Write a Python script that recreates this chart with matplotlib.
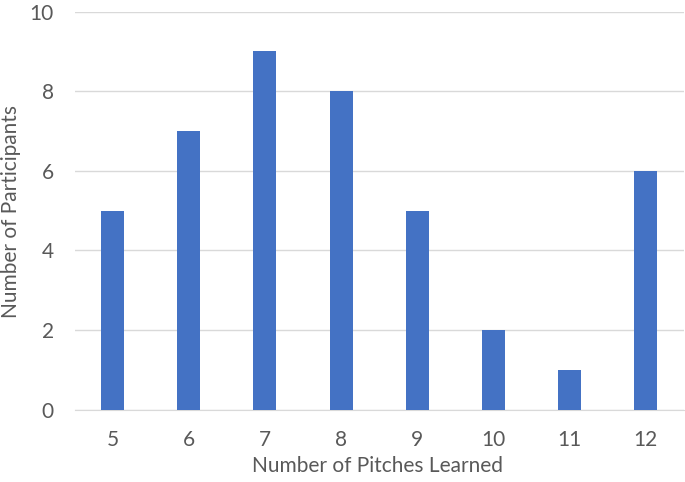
import matplotlib
matplotlib.use("Agg")
import matplotlib.pyplot as plt

categories = ["5", "6", "7", "8", "9", "10", "11", "12"]
values = [5, 7, 9, 8, 5, 2, 1, 6]
yticks = [0, 2, 4, 6, 8, 10]

plt.rcParams['font.family'] = ['Lato', 'DejaVu Sans']
W, H = 685, 482
fig = plt.figure(figsize=(W / 100, H / 100), dpi=100)
ax = fig.add_axes([0.1088, 0.1504, 0.8895, 0.8257])
x = range(len(categories))
ax.bar(x, values, width=0.302, color='#4472C4', zorder=3)
ax.set_xlim(-0.5, len(categories) - 0.5)
ax.set_ylim(0, 10)
ax.set_yticks(yticks)
ax.set_xticks(list(x))
ax.set_xticklabels(categories)
ax.grid(axis='y', color='#d9d9d9', linewidth=1, zorder=0)
for s in ['top', 'right', 'left']:
    ax.spines[s].set_visible(False)
ax.spines['bottom'].set_color('#d9d9d9')
ax.tick_params(length=0, labelsize=15, labelcolor='#595959')
ax.tick_params(axis='x', pad=15)
ax.tick_params(axis='y', pad=15)
fig.text(378 / W, 10 / H, "Number of Pitches Learned", fontsize=15,
         color='#595959', ha='center', va='baseline')
fig.text(11.5 / W, 1 - 211 / H, "Number of Participants", fontsize=15,
         color='#595959', ha='center', va='center', rotation=90)
fig.savefig("out.png", dpi=100)
